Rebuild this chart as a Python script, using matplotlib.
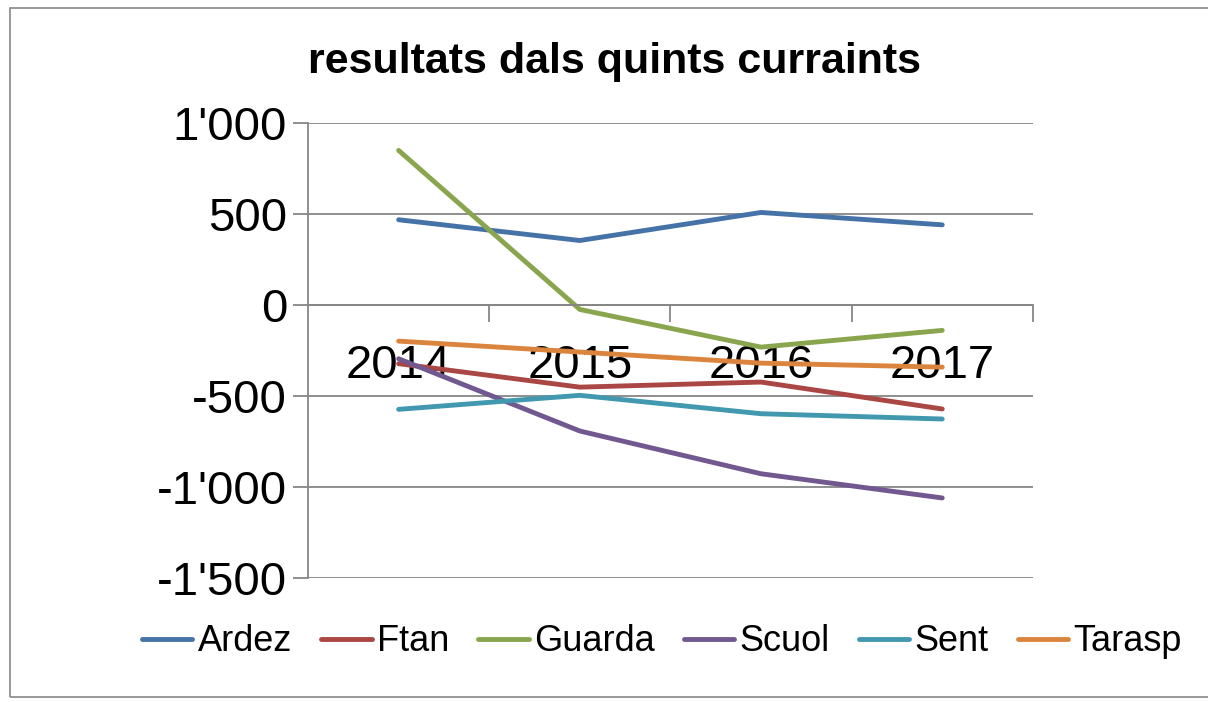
import matplotlib.pyplot as plt
import matplotlib.patches as patches
from matplotlib.ticker import FuncFormatter

plt.rcParams['font.family'] = ['Liberation Sans', 'DejaVu Sans']

years = ['2014', '2015', '2016', '2017']
ardez = [469, 355, 509, 441]
ftan = [-322, -451, -423, -571]
guarda = [850, -24, -231, -139]
scuol = [-295, -692, -927, -1060]
sent = [-573, -496, -597, -626]
tarasp = [-198, -258, -319, -341]

series = [('Ardez', ardez, '#4572A7'), ('Ftan', ftan, '#AA4643'),
          ('Guarda', guarda, '#89A54E'), ('Scuol', scuol, '#71588F'),
          ('Sent', sent, '#4198AF'), ('Tarasp', tarasp, '#DB843D')]

fig = plt.figure(figsize=(12.08, 7.02), dpi=100)
ax = fig.add_axes([0.255, 0.1766, 0.600, 0.648])

grid_col = '#868686'
x = list(range(len(years)))
for name, vals, col in series:
    ax.plot(x, vals, color=col, lw=3.5, label=name, solid_capstyle='round')

ax.set_xlim(-0.5, 3.5)
ax.set_ylim(-1500, 1000)
ax.set_yticks(range(-1500, 1001, 500))
ax.yaxis.set_major_formatter(FuncFormatter(lambda v, p: f"{int(v):,}".replace(',', "'")))
ax.grid(axis='y', color=grid_col, lw=1.3)
ax.set_axisbelow(True)

ax.spines['top'].set_visible(False)
ax.spines['right'].set_visible(False)
ax.spines['bottom'].set_position(('data', 0))
ax.spines['bottom'].set_color(grid_col)
ax.spines['left'].set_color(grid_col)
ax.spines['bottom'].set_linewidth(1.3)
ax.spines['left'].set_linewidth(1.3)

ax.set_xticks(x)
ax.set_xticklabels(years)
ax.set_xticks([0.5, 1.5, 2.5, 3.5], minor=True)
ax.tick_params(axis='x', which='major', length=0, pad=28, labelsize=34)
ax.tick_params(axis='x', which='minor', length=12, width=1.3, color=grid_col, direction='out')
ax.tick_params(axis='y', length=11, width=1.3, color=grid_col, labelsize=34, pad=4)

fig.text(0.509, 0.912, 'resultats dals quints curraints', ha='center', va='center',
         fontsize=31, fontweight='bold')

fig.legend(loc='center', bbox_to_anchor=(0.548, 0.0855), ncol=6, frameon=False,
           fontsize=26, handlelength=1.4, handletextpad=0.15, columnspacing=0.8)

fig.patches.append(patches.Rectangle((10 / 1208, 5 / 702), 1.0, 1 - 13 / 702,
                                     transform=fig.transFigure, fill=False,
                                     edgecolor='#888888', lw=1.2))

fig.savefig('out.png', dpi=100)
